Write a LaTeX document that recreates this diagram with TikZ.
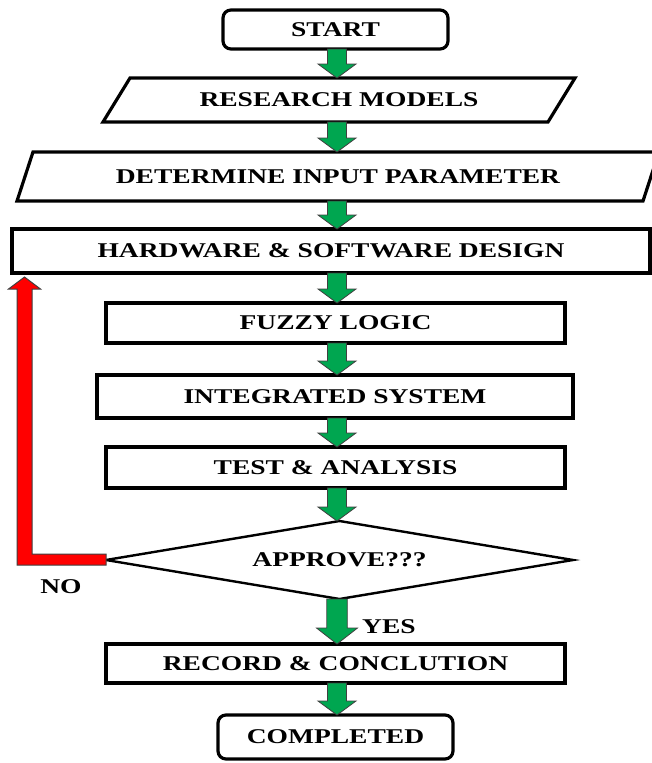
\documentclass[tikz,border=0pt]{standalone}
\usepackage{fontspec}
\setmainfont{Liberation Serif}[FakeStretch=1.31]
\usetikzlibrary{calc}
\definecolor{arrowgreen}{RGB}{0,166,80}
\definecolor{arrowred}{RGB}{255,0,0}
\newcommand\garrow[4][9.5]{%
  \filldraw[greenblock]
    ($(axis |- #2.south)+(-#1,0)$) -- ($(axis |- #3.north)+(-#1,-#4)$) --
    ($(axis |- #3.north)+({-2*#1},-#4)$) -- (axis |- #3.north) --
    ($(axis |- #3.north)+({2*#1},-#4)$) -- ($(axis |- #3.north)+(#1,-#4)$) --
    ($(axis |- #2.south)+(#1,0)$) -- cycle;}
\begin{document}
\begin{tikzpicture}[x=1pt,y=-1pt,
  txt/.style={font=\fontsize{21}{25}\selectfont\bfseries, inner sep=0pt, outer sep=0pt},
  boxnode/.style={txt, draw, line width=3.2pt},
  roundnode/.style={boxnode, rounded corners=8pt},
  plainnode/.style={txt},
  outline/.style={line width=3.2pt, line join=miter},
  greenblock/.style={fill=arrowgreen, draw=black!75, line width=0.8pt},
  redblock/.style={fill=arrowred, draw=black!75, line width=1pt}]
\path[use as bounding box, clip] (0,0) rectangle (652,763);
\fill[white] (0,0) rectangle (652,763);
\coordinate (axis) at (337,0);

% nodes
\node[roundnode, minimum width=225pt, minimum height=39pt] (start) at (335.5,29.5) {START};
\node[plainnode, minimum width=472pt, minimum height=44pt] (rm) at (339,100) {RESEARCH MODELS};
\node[plainnode, minimum width=642pt, minimum height=49pt] (dip) at (338,176.5) {DETERMINE INPUT PARAMETER};
\node[boxnode, minimum width=638pt, minimum height=44pt] (hw) at (331,251) {HARDWARE \& SOFTWARE DESIGN};
\node[boxnode, minimum width=459pt, minimum height=40pt] (fz) at (335.5,323) {FUZZY LOGIC};
\node[boxnode, minimum width=476pt, minimum height=43pt] (is) at (335,396.5) {INTEGRATED SYSTEM};
\node[boxnode, minimum width=459pt, minimum height=41pt] (ta) at (335.5,467.5) {TEST \& ANALYSIS};
\node[plainnode, minimum width=467pt, minimum height=78pt] (ap) at (339.5,560) {APPROVE???};
\node[boxnode, minimum width=459pt, minimum height=39pt] (rec) at (335.5,663.5) {RECORD \& CONCLUTION};
\node[roundnode, minimum width=235pt, minimum height=44pt] (done) at (335.5,737) {COMPLETED};
\node[txt] (yes) at (389,627) {YES};
\node[txt] (no) at (61,587) {NO};

% parallelograms and diamond outlines
\draw[outline] ($(rm.north west)+(27,0)$) -- (rm.north east) -- ($(rm.south east)+(-27,0)$) -- (rm.south west) -- cycle;
\draw[outline] ($(dip.north west)+(16,0)$) -- (dip.north east) -- ($(dip.south east)+(-16,0)$) -- (dip.south west) -- cycle;
\draw[line width=2.4pt, line join=miter] (ap.west) -- (ap.north) -- (ap.east) -- (ap.south) -- cycle;

% green block arrows
\garrow{start}{rm}{14}
\garrow{rm}{dip}{14}
\garrow{dip}{hw}{14}
\garrow{hw}{fz}{14}
\garrow{fz}{is}{14}
\garrow{is}{ta}{14}
\garrow{ta}{ap}{14}
\garrow[10.25]{ap}{rec}{16}
\garrow{rec}{done}{14}

% red feedback arrow (NO)
\coordinate (fb) at ($(hw.south west)+(12.5,4)$);
\filldraw[redblock]
  ($(ap.west)+(0,-6)$) -- ($(fb |- ap.west)+(7.5,-6)$) -- ($(fb)+(7.5,12)$) --
  ($(fb)+(16,12)$) -- (fb) -- ($(fb)+(-16,12)$) -- ($(fb)+(-7.5,12)$) --
  ($(fb |- ap.west)+(-7.5,5)$) -- ($(ap.west)+(0,5)$) -- cycle;
\end{tikzpicture}
\end{document}
